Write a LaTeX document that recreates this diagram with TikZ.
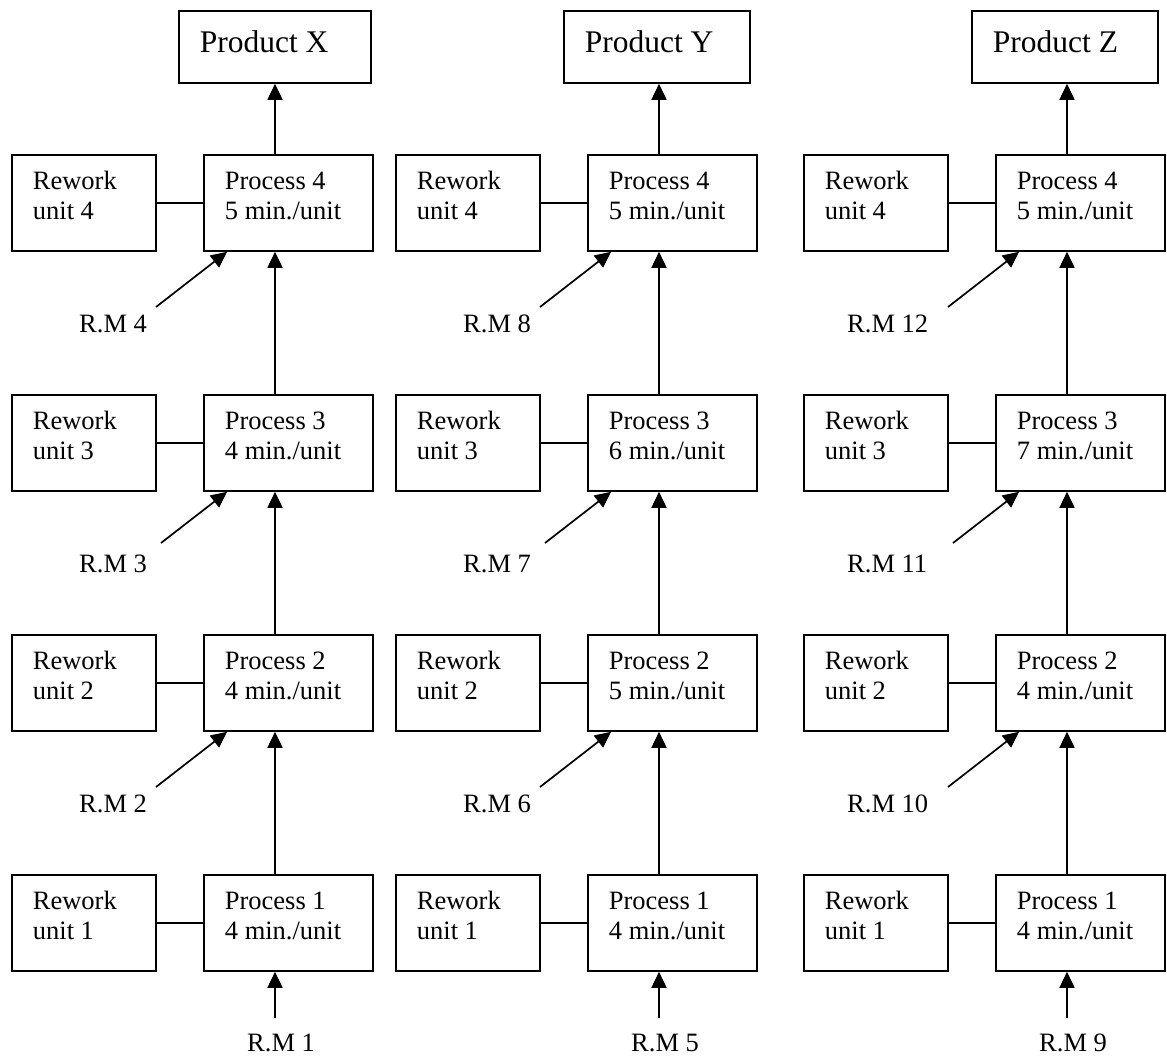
\documentclass[tikz,border=0pt]{standalone}
\usepackage{fontspec}
\setmainfont{Liberation Serif}
\usetikzlibrary{arrows.meta,calc}
\tikzset{
  boxn/.style={draw, line width=1.8pt, inner sep=0pt, anchor=north west},
  arr/.style={line width=1.7pt, -{Triangle[length=16pt,width=15pt]}},
  link/.style={line width=1.7pt},
  rmlab/.style={anchor=base west, inner sep=0pt, font=\fontsize{26.5}{30}\selectfont},
}
\newcommand\bxtext[2]{\parbox[t][96pt][t]{#1}{\raggedright\leftskip=21pt\fontsize{26.5}{30}\selectfont\rule{0pt}{35pt}#2}}
\newcommand\prodtext[2]{\parbox[t][72pt][t]{#1}{\raggedright\leftskip=21pt\fontsize{31.5}{36}\selectfont\rule{0pt}{42pt}#2}}
\begin{document}
\begin{tikzpicture}[x=1pt,y=-1pt]
\useasboundingbox (0,0) rectangle (1167,1057);
\foreach \ox/\P/\px/\pw/\ta/\tb/\tc/\td/\ra/\rb/\rc/\rd/\lx in
  {0/X/178/192/4/4/4/5/1/2/3/4/79,
   384/Y/563/186/4/5/6/5/5/6/7/8/463,
   792/Z/971/186/4/4/7/5/9/10/11/12/847}{
  \node[boxn] (prod\P) at (\px,10) {\prodtext{\pw pt}{Product \P}};
  \foreach \k/\yt/\tm in {4/154/\td,3/394/\tc,2/634/\tb,1/874/\ta}{
    \node[boxn] (rw\P\k) at (11+\ox,\yt) {\bxtext{144pt}{Rework\\unit \k}};
    \node[boxn] (pr\P\k) at (203+\ox,\yt) {\bxtext{169pt}{Process \k\\\tm{} min./unit}};
    \draw[link] (rw\P\k.east) -- (pr\P\k.west);
    \coordinate (t\P\k) at ($(pr\P\k.north west)+(72,0)$);
  }
  % vertical flow
  \draw[arr] (t\P1) -- (t\P1 |- pr\P2.south);
  \draw[arr] (t\P2) -- (t\P2 |- pr\P3.south);
  \draw[arr] (t\P3) -- (t\P3 |- pr\P4.south);
  \draw[arr] (t\P4) -- (t\P4 |- prod\P.south);
  % raw material inputs
  \coordinate (b\P) at (275+\ox,1018);
  \draw[arr] (b\P) -- (b\P |- pr\P1.south);
  \node[rmlab] (rm\ra) at (247+\ox,1051) {R.M \ra};
  \coordinate (d\P2) at (156+\ox,787);
  \coordinate (d\P3) at (161+\ox,543);
  \coordinate (d\P4) at (156+\ox,307);
  \draw[arr] (d\P2) -- ($(pr\P2.south west)+(24,0)$);
  \draw[arr] (d\P3) -- ($(pr\P3.south west)+(24,0)$);
  \draw[arr] (d\P4) -- ($(pr\P4.south west)+(24,0)$);
  \node[rmlab] (rm\rb) at (\lx,812) {R.M \rb};
  \node[rmlab] (rm\rc) at (\lx,572) {R.M \rc};
  \node[rmlab] (rm\rd) at (\lx,332) {R.M \rd};
}
\end{tikzpicture}
\end{document}
